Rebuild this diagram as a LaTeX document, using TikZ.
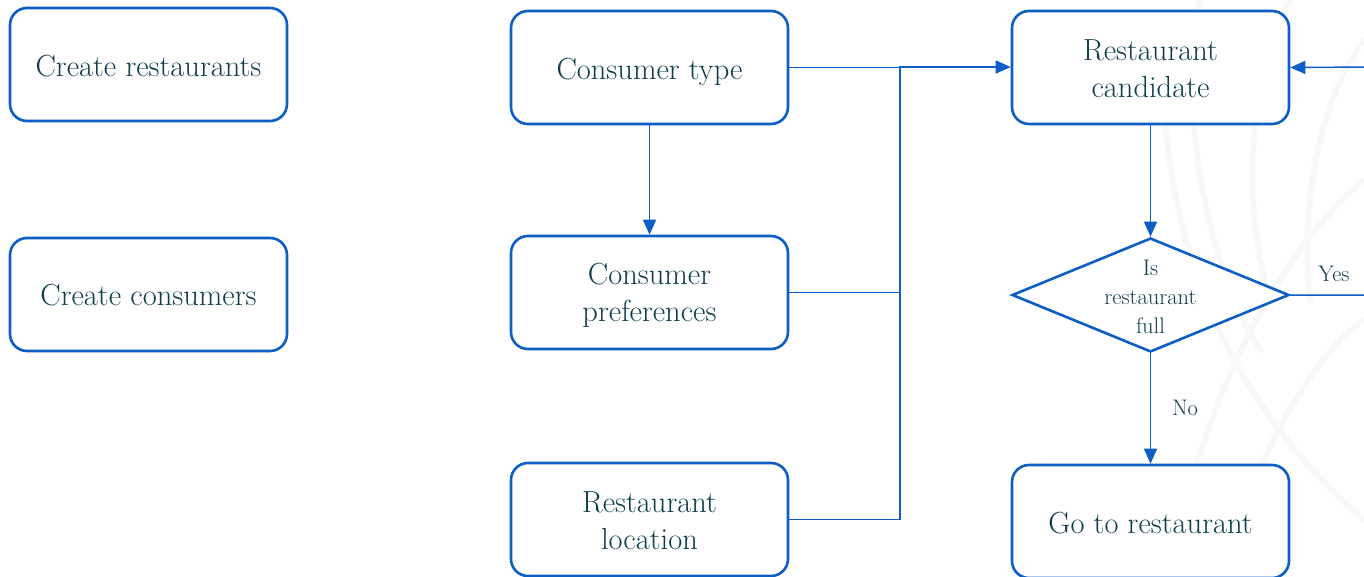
\documentclass[tikz,border=0pt]{standalone}
\usetikzlibrary{arrows.meta,shapes.geometric}
\definecolor{flowblue}{RGB}{12,94,196}
\definecolor{flowtext}{RGB}{14,62,76}
\definecolor{leafgray}{RGB}{248,248,248}
\begin{document}
\begin{tikzpicture}[x=1pt,y=-1pt,
  stepbox/.style={draw=flowblue, line width=2.6pt, rounded corners=17pt, fill=white,
    minimum width=277pt, minimum height=113pt, inner sep=0pt},
  boxtext/.style={text=flowtext, font=\fontsize{30.5}{37}\selectfont, align=center, inner sep=0pt},
  decision/.style={diamond, draw=flowblue, line width=2.6pt, fill=white,
    minimum width=277pt, minimum height=114pt, inner sep=0pt},
  smalltext/.style={text=flowtext, font=\fontsize{22.5}{29}\selectfont, align=center, inner sep=0pt},
  link/.style={draw=flowblue, line width=1.5pt},
  arrowlink/.style={link, -{Triangle[length=15pt,width=13pt]}},
  leaf/.style={draw=leafgray, line width=6pt, line cap=round}]
\useasboundingbox (0,0) rectangle (1364,577);
\clip (0,0) rectangle (1364,577);
\fill[white] (0,0) rectangle (1364,577);

% faint leaf ornament in the background
\draw[leaf] (1170,577) .. controls (1200,400) and (1280,250) .. (1364,180);
\draw[leaf] (1230,577) .. controls (1250,450) and (1320,350) .. (1364,320);
\draw[leaf] (1165,120) .. controls (1180,300) and (1260,430) .. (1364,520);
\draw[leaf] (1200,0) .. controls (1180,100) and (1200,250) .. (1260,350);
\draw[leaf] (1290,0) .. controls (1250,80) and (1240,200) .. (1270,300);
\draw[leaf] (1364,40) .. controls (1320,100) and (1300,200) .. (1310,300);

% left column
\node[stepbox] (cr) at (148.5,64.5) {};
\node[boxtext, yshift=-2pt] (crtext) at (cr) {Create restaurants};
\node[stepbox] (cc) at (148.5,294.5) {};
\node[boxtext, yshift=-1pt] (cctext) at (cc) {Create consumers};

% middle column
\node[stepbox] (ct) at (649.5,67.5) {};
\node[boxtext, yshift=-4pt] (cttext) at (ct) {Consumer type};
\node[stepbox] (cp) at (649.5,292.5) {};
\node[boxtext, yshift=-3pt] (cptext) at (cp) {Consumer\\preferences};
\node[stepbox] (rl) at (649.5,519.5) {};
\node[boxtext, yshift=-1pt] (rltext) at (rl) {Restaurant\\location};

% right column
\node[stepbox] (rc) at (1150.5,67.5) {};
\node[boxtext, yshift=-1pt] (rctext) at (rc) {Restaurant\\candidate};
\node[decision] (dia) at (1150.5,295) {};
\node[smalltext, yshift=-2pt] (diatext) at (dia) {Is\\restaurant\\full};
\node[stepbox] (gt) at (1150.5,521.5) {};
\node[boxtext, yshift=-2pt] (gttext) at (gt) {Go to restaurant};

% junction coordinates
\coordinate (jtop) at (900,67);
\coordinate (jbot) at (900,520);
\coordinate (loopbot) at (1380,295);
\coordinate (looptop) at (1380,67);

% connectors
\draw[arrowlink] (ct.south) -- (cp.north);
\draw[link] (ct.east) -- (ct.east -| jtop);
\draw[link] (cp.east) -- (cp.east -| jtop);
\draw[link] (rl.east) -- (rl.east -| jtop);
\draw[arrowlink] (jbot) -- (jtop) -- (jtop -| rc.west);
\draw[arrowlink] (rc.south) -- (dia.north);
\draw[arrowlink] (dia.south) -- (gt.north);
\draw[arrowlink] (dia.east) -- (loopbot) -- (looptop) -- (rc.east);

% branch labels
\node[smalltext] (nolbl) at (1185,408) {No};
\node[smalltext] (yeslbl) at (1334,274) {Yes};
\end{tikzpicture}
\end{document}
